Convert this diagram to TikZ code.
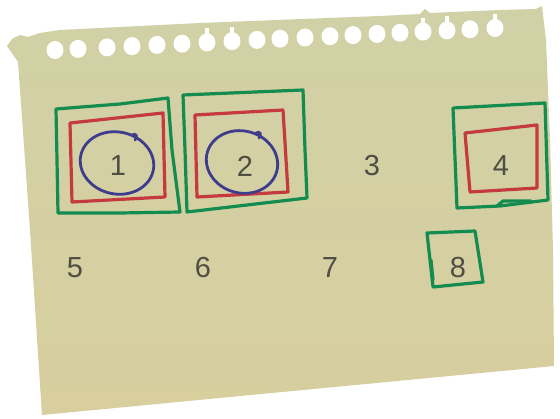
\documentclass[tikz,border=0pt]{standalone}
\usepackage{fontspec}
\setmainfont{Liberation Sans}
\definecolor{papertop}{RGB}{208,209,166}
\definecolor{paperbot}{RGB}{216,206,158}
\definecolor{pgreen}{RGB}{20,140,80}
\definecolor{pred}{RGB}{196,58,62}
\definecolor{pblue}{RGB}{62,60,140}
\definecolor{ink}{RGB}{78,78,68}
\tikzset{
  green pen/.style={draw=pgreen,line width=3.2pt,line join=round,line cap=round},
  red pen/.style={draw=pred,line width=3.2pt,line join=round,line cap=round},
  blue pen/.style={draw=pblue,line width=2.8pt,line cap=round},
  digit/.style={text=ink,font=\fontsize{29}{32}\selectfont,inner sep=0pt},
  hole/.style={fill=white,draw=none}
}
\begin{document}
\begin{tikzpicture}[x=1pt,y=-1pt]
\useasboundingbox (0,0) rectangle (560,419);
\fill[white] (0,0) rectangle (560,419);
% paper
\path[top color=papertop,bottom color=paperbot]
  (7,46) -- (12,39) -- (20,35) -- (28,37) -- (40,33) -- (60,30) -- (200,23)
  -- (380,16) -- (420,14) -- (425,9) -- (430,13) -- (500,10) -- (536,9) -- (542,6)
  -- (546,40) -- (550,140) -- (553,250) -- (554,366) -- (42,415) -- (30,230) -- (18,62) -- cycle;
% holes
\foreach \hx in {55,78,107,132,157,182,207,232,257,280,305,330,353,377,400,423,447,470,495}{
  \fill[hole] (\hx,{50-0.05*(\hx-55)}) circle[x radius=8.5pt,y radius=9pt];
}
\foreach \hx in {207,232,423,447,495}{
  \fill[hole] (\hx-2,{50-0.05*(\hx-55)-14}) rectangle (\hx+2,{50-0.05*(\hx-55)});
}
% box 1
\draw[green pen] (56,109) -- (120,104) -- (168,98) -- (172,150) -- (180,212) -- (120,213) -- (58,213) -- (57,160) -- cycle;
\draw[red pen] (70,123) -- (163,113) -- (165,197) -- (72,202) -- cycle;
\draw[blue pen] (117,163) ellipse[x radius=37pt,y radius=31pt,rotate=-12];
\draw[blue pen] (132,135) .. controls (136,133) and (138,136) .. (135,140);
% box 2
\draw[green pen] (183,95) -- (303,90) -- (305,150) -- (307,198) -- (187,212) -- (185,150) -- cycle;
\draw[red pen] (195,115) -- (283,110) -- (288,192) -- (197,197) -- cycle;
\draw[blue pen] (242,162) ellipse[x radius=36pt,y radius=31pt,rotate=-15];
\draw[blue pen] (256,133) .. controls (260,131) and (262,134) .. (259,138);
% box 4
\draw[green pen] (453,108) -- (545,103) -- (548,200) -- (500,206) -- (457,208) -- cycle;
\draw[green pen] (497,206) -- (503,201) -- (531,201);
\draw[red pen] (465,133) -- (537,125) -- (537,188) -- (470,192) -- cycle;
% box 8
\draw[green pen] (427,233) -- (475,231) -- (483,282) -- (433,287) -- cycle;
\draw[green pen] (431,260) -- (433,280);
% labels
\node[digit] (n1) at (118,166) {1};
\node[digit] (n2) at (245,166) {2};
\node[digit] (n3) at (372,166) {3};
\node[digit] (n4) at (501,166) {4};
\node[digit] (n5) at (75,268) {5};
\node[digit] (n6) at (203,268) {6};
\node[digit] (n7) at (330,268) {7};
\node[digit] (n8) at (458,268) {8};
\end{tikzpicture}
\end{document}
